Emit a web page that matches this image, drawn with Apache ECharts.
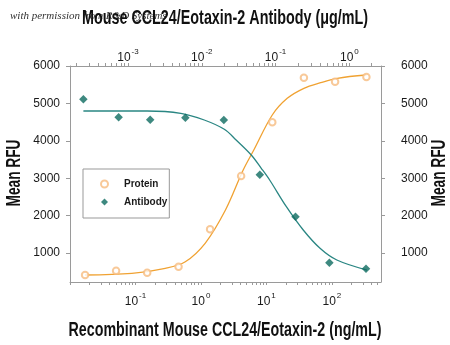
<!DOCTYPE html>
<html>
<head>
<meta charset="utf-8">
<script src="https://cdn.jsdelivr.net/npm/echarts@6/dist/echarts.min.js"></script>
<style>
html,body{margin:0;padding:0;background:#fff;}
#chart{width:450px;height:345px;}
</style>
</head>
<body>
<div id="chart"></div>
<script>
// ---- Data ----
// Recombinant Mouse CCL24/Eotaxin-2 (ng/mL) -> Mean RFU (bottom axis)
const proteinX = [0.0170, 0.0506, 0.151, 0.455, 1.38, 4.11, 12.3, 37.4, 112, 337];
const proteinY = [412, 527, 473, 634, 1634, 3059, 4495, 5687, 5580, 5706];
// Fitted protein curve
const proteinCurveX = [0.0170, 0.0881, 0.285, 0.577, 1.167, 2.37, 4.42, 6.42, 12.3, 20.8, 37.4, 67.4, 121, 337];
const proteinCurveY = [412, 457, 591, 767, 1267, 2150, 3219, 3754, 4690, 5136, 5404, 5553, 5671, 5759];

// Mouse CCL24/Eotaxin-2 Antibody (µg/mL) -> Mean RFU (top axis)
const antibodyX = [0.000249, 0.000747, 0.00200, 0.00600, 0.0199, 0.0612, 0.186, 0.536, 1.68];
const antibodyY = [5110, 4628, 4564, 4618, 4556, 3094, 1971, 741, 580];
// Fitted antibody curve
const antibodyCurveX = [0.000249, 0.00182, 0.00519, 0.0108, 0.0202, 0.0292, 0.0468, 0.0640, 0.0831, 0.140, 0.237, 0.400, 0.675, 1.73];
const antibodyCurveY = [4797, 4797, 4735, 4556, 4307, 4021, 3620, 3265, 2952, 2238, 1615, 1126, 813, 545];

// Axis ticks / labels
const bottomLabelValues = [0.1, 1, 10, 100];
const topLabelValues = [0.001, 0.01, 0.1, 1];
const yLabelValues = [1000, 2000, 3000, 4000, 5000, 6000];
const bottomDecades = [0.01, 0.1, 1, 10, 100];
const topDecades = [0.0001, 0.001, 0.01, 0.1, 1];

const bottomRange = [0.01, 563];
const topRange = [0.000164, 2.68];
const yRange = [225, 6000];

const topTitle = 'Mouse CCL24/Eotaxin-2 Antibody (\u03bcg/mL)';
const bottomTitle = 'Recombinant Mouse CCL24/Eotaxin-2 (ng/mL)';
const yTitle = 'Mean RFU';
const watermark = 'with permission from R&D Systems';

function minorTicks(decades, range) {
  const out = [];
  decades.forEach(d => {
    for (let m = 1; m <= 9; m++) {
      const v = +(m * d).toPrecision(6);
      if (v >= range[0] * 0.9999 && v <= range[1]) out.push(v);
    }
  });
  return out;
}

const FONT = "'Liberation Sans', Arial, sans-serif";
const AXIS_COLOR = '#9a9a9a';
const TEXT_COLOR = '#1a1a1a';

// horizontal condensing factor so wide fonts occupy the reference width
const measureCtx = document.createElement('canvas').getContext('2d');
function fitScale(text, font, target) {
  measureCtx.font = font;
  return target / measureCtx.measureText(text).width;
}
const TITLE_FONT = "bold 20px 'Liberation Sans'";

const powRich = {
  b: {fontFamily: FONT, fontSize: 12, color: TEXT_COLOR, lineHeight: 16, verticalAlign: 'bottom'},
  s: {fontFamily: FONT, fontSize: 8, color: TEXT_COLOR, lineHeight: 16, verticalAlign: 'top', padding: [0, 0, 0, 1]}
};
function powFmt(v) {
  const e = Math.round(Math.log10(v));
  return '{b|10}{s|' + (e < 0 ? '-' + (-e) : e) + '}';
}

function logAxis(pos, range, labels, decades, margin) {
  return {
    type: 'log', logBase: 10, position: pos, gridIndex: 0,
    min: range[0], max: range[1],
    axisLine: {show: true, onZero: false, lineStyle: {color: AXIS_COLOR, width: 1}},
    axisTick: {show: true, inside: false, length: 3, customValues: minorTicks(decades, range), lineStyle: {color: AXIS_COLOR}},
    axisLabel: {show: true, customValues: labels, formatter: powFmt, rich: powRich, margin: margin},
    splitLine: {show: false},
    minorTick: {show: false}
  };
}

function yAxis(pos, margin) {
  return {
    type: 'value', position: pos, min: yRange[0], max: yRange[1],
    axisLine: {show: true, lineStyle: {color: AXIS_COLOR, width: 1}},
    axisTick: {show: true, inside: false, length: 4, customValues: yLabelValues, lineStyle: {color: AXIS_COLOR}},
    axisLabel: {show: true, customValues: yLabelValues, formatter: v => String(v), fontFamily: FONT, fontSize: 12, color: TEXT_COLOR, margin: margin},
    splitLine: {show: false}
  };
}

const pair = (xs, ys) => xs.map((x, i) => [x, ys[i]]);

function titleText(text, x, y, width, rot) {
  return {
    type: 'text', x: x, y: y, rotation: rot || 0, z: 10,
    scaleX: fitScale(text, TITLE_FONT, width), scaleY: 1,
    style: {text: text, font: TITLE_FONT, fill: '#111', align: 'center', verticalAlign: 'middle'}
  };
}

const chart = echarts.init(document.getElementById('chart'), null, {renderer: 'canvas'});
chart.setOption({
  animation: false,
  backgroundColor: '#ffffff',
  grid: {left: 70, top: 66, width: 311, height: 216, containLabel: false},
  xAxis: [
    logAxis('bottom', bottomRange, bottomLabelValues, bottomDecades, 10),
    logAxis('top', topRange, topLabelValues, topDecades, 2)
  ],
  yAxis: [yAxis('left', 10), yAxis('right', 20)],
  legend: {
    orient: 'vertical', left: 83, top: 169,
    data: ['Protein', 'Antibody'],
    itemWidth: 7, itemHeight: 7, itemGap: 8,
    padding: [10, 2, 11, 17],
    borderColor: '#999', borderWidth: 1,
    textStyle: {fontFamily: FONT, fontSize: 10, fontWeight: 'bold', color: TEXT_COLOR, lineHeight: 8, padding: [0, 0, 0, 11]}
  },
  graphic: [
    {type: 'text', left: 10, top: 11, z: 1, style: {text: watermark, font: "italic 11px 'Liberation Serif', serif", fill: '#333'}},
    titleText(topTitle, 225, 18, 286),
    titleText(bottomTitle, 225, 330, 313),
    titleText(yTitle, 14, 173, 67, Math.PI / 2),
    titleText(yTitle, 439, 173, 67, Math.PI / 2)
  ],
  series: [
    {
      name: 'ProteinFit', type: 'line', xAxisIndex: 0, yAxisIndex: 0,
      data: pair(proteinCurveX, proteinCurveY), smooth: 0.35,
      showSymbol: false, symbol: 'none', lineStyle: {color: '#F0A232', width: 1.3}, z: 2, silent: true
    },
    {
      name: 'AntibodyFit', type: 'line', xAxisIndex: 1, yAxisIndex: 0,
      data: pair(antibodyCurveX, antibodyCurveY), smooth: 0.35,
      showSymbol: false, symbol: 'none', lineStyle: {color: '#2A8683', width: 1.3}, z: 2, silent: true
    },
    {
      name: 'Protein', type: 'scatter', xAxisIndex: 0, yAxisIndex: 0,
      data: pair(proteinX, proteinY), symbol: 'emptyCircle', symbolSize: 6.5,
      itemStyle: {color: '#F6BC80', borderColor: '#F6BC80', borderWidth: 1}, z: 3
    },
    {
      name: 'Antibody', type: 'scatter', xAxisIndex: 1, yAxisIndex: 0,
      data: pair(antibodyX, antibodyY), symbol: 'diamond', symbolSize: 8.5,
      itemStyle: {color: '#0E6B60'}, z: 4
    }
  ]
});
</script>
</body>
</html>
